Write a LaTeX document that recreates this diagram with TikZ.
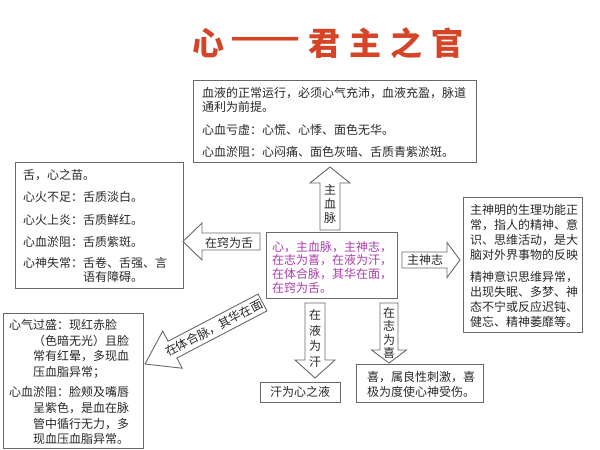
\documentclass[tikz,border=0pt]{standalone}
\usepackage{fontspec}
\setmainfont{Noto Sans CJK SC}
\usetikzlibrary{calc}
\definecolor{titlered}{RGB}{214,68,40}
\definecolor{magtxt}{RGB}{170,60,170}
\definecolor{framec}{RGB}{105,105,105}
\definecolor{txtc}{RGB}{40,40,40}
\tikzset{
  box/.style={draw=framec, line width=0.9pt, fill=white, rectangle, inner sep=0pt, anchor=north west},
  body/.style={anchor=north west, inner sep=0pt, align=left, text=txtc},
  arrowbody/.style={draw=framec, line width=0.9pt, fill=white, line join=miter},
  arrowtxt/.style={inner sep=0pt, text=txtc, align=center},
  titletxt/.style={inner sep=0pt, text=titlered, font=\fontsize{32}{32}\selectfont\bfseries},
}
\newcommand\blkarrow[5]{%
  \coordinate (ba-h) at ($(#2)!#5!(#1)$);
  \draw[arrowbody] ($(#1)!#3!90:(#2)$) -- ($(ba-h)!#3!90:(#2)$) -- ($(ba-h)!#4!90:(#2)$) -- (#2)
    -- ($(ba-h)!#4!-90:(#2)$) -- ($(ba-h)!#3!-90:(#2)$) -- ($(#1)!#3!-90:(#2)$) -- cycle;
}
\begin{document}
\begin{tikzpicture}[x=1pt,y=-1pt]
\useasboundingbox (0,0) rectangle (600,450);
\fill[white] (0,0) rectangle (600,450);

% title
\node[titletxt] (t1) at (208,43) {心};
\node[titletxt] (t2) at (266,43) {\scalebox{1.28}[1]{——}};
\node[titletxt] (t3) at (386,43) {君\hspace{9pt}主\hspace{9pt}之\hspace{9pt}官};

% boxes
\node[box, minimum width=283pt, minimum height=82pt] (topbox) at (193,80) {};
\node[box, minimum width=168pt, minimum height=126pt] (leftbox) at (15,162) {};
\node[box, minimum width=131pt, minimum height=66pt] (centerbox) at (266,232) {};
\node[box, minimum width=119pt, minimum height=135pt] (rightbox) at (463,197) {};
\node[box, minimum width=140pt, minimum height=135pt] (blbox) at (3,313) {};
\node[box, minimum width=80pt, minimum height=20pt] (sweatbox) at (260,382) {};
\node[box, minimum width=127pt, minimum height=38pt] (joybox) at (356,364) {};

% box texts
\node[body, font=\fontsize{12}{14.5}\selectfont] (toptxt) at (202,87) {血液的正常运行，必须心气充沛，血液充盈，脉道\\通利为前提。\\[8pt]心血亏虚：心慌、心悸、面色无华。\\[7.5pt]心血淤阻：心闷痛、面色灰暗、舌质青紫淤斑。};
\node[body, font=\fontsize{12}{14.5}\selectfont] (lefttxt) at (23,169) {舌，心之苗。\\[8pt]心火不足：舌质淡白。\\[8pt]心火上炎：舌质鲜红。\\[7.5pt]心血淤阻：舌质紫斑。\\[6.5pt]心神失常：舌卷、舌强、言\\\hspace*{5em}语有障碍。};
\node[body, text=magtxt, font=\fontsize{12}{13.7}\selectfont] (centertxt) at (272,241) {心，主血脉，主神志，\\在志为喜，在液为汗，\\在体合脉，其华在面，\\在窍为舌。};
\node[body, font=\fontsize{12}{15}\selectfont] (righttxt) at (470,204) {主神明的生理功能正\\常，指人的精神、意\\识、思维活动，是大\\脑对外界事物的反映\\[7pt]精神意识思维异常，\\出现失眠、多梦、神\\态不宁或反应迟钝、\\健忘、精神萎靡等。};
\node[body, font=\fontsize{12}{15.8}\selectfont] (bltxt) at (9,319) {心气过盛：现红赤脸\\\hspace*{2em}（色暗无光）且脸\\\hspace*{2em}常有红晕，多现血\\\hspace*{2em}压血脂异常；\\[4pt]心血淤阻：脸颊及嘴唇\\\hspace*{2em}呈紫色，是血在脉\\\hspace*{2em}管中循行无力，多\\\hspace*{2em}现血压血脂异常。};
\node[arrowtxt, font=\fontsize{12}{14}\selectfont] (sweattxt) at (300,392) {汗为心之液};
\node[body, font=\fontsize{12}{15}\selectfont] (joytxt) at (367,371) {喜，属良性刺激，喜\\极为度使心神受伤。};

% block arrows
\coordinate (a1t) at (330,230); \coordinate (a1h) at (330,167);
\coordinate (a2t) at (260,241.5); \coordinate (a2h) at (183,241.5);
\coordinate (a3t) at (402,260); \coordinate (a3h) at (460,260);
\coordinate (a4t) at (262.5,302.5); \coordinate (a4h) at (145,364);
\coordinate (a5t) at (315,303); \coordinate (a5h) at (315,378);
\coordinate (a6t) at (389,303); \coordinate (a6h) at (389,363);
\blkarrow{a1t}{a1h}{10pt}{20pt}{16pt}
\blkarrow{a2t}{a2h}{8.5pt}{18.5pt}{19pt}
\blkarrow{a3t}{a3h}{8pt}{17.5pt}{13pt}
\blkarrow{a4t}{a4h}{9.5pt}{21pt}{31pt}
\blkarrow{a5t}{a5h}{10pt}{20pt}{18pt}
\blkarrow{a6t}{a6h}{9pt}{17.5pt}{13pt}

\node[arrowtxt, font=\fontsize{12}{14}\selectfont] (a1txt) at (330,204) {主\\血\\脉};
\node[arrowtxt, font=\fontsize{12}{14}\selectfont] (a2txt) at (229,243) {在窍为舌};
\node[arrowtxt, font=\fontsize{12}{14}\selectfont] (a3txt) at (425,260) {主神志};
\node[arrowtxt, font=\fontsize{12}{14}\selectfont, rotate=27.6] (a4txt) at (214,328) {在体合脉，其华在面};
\node[arrowtxt, font=\fontsize{12}{15.7}\selectfont] (a5txt) at (315,338.5) {在\\液\\为\\汗};
\node[arrowtxt, font=\fontsize{12}{13.3}\selectfont] (a6txt) at (389,333) {在\\志\\为\\喜};
\end{tikzpicture}
\end{document}
